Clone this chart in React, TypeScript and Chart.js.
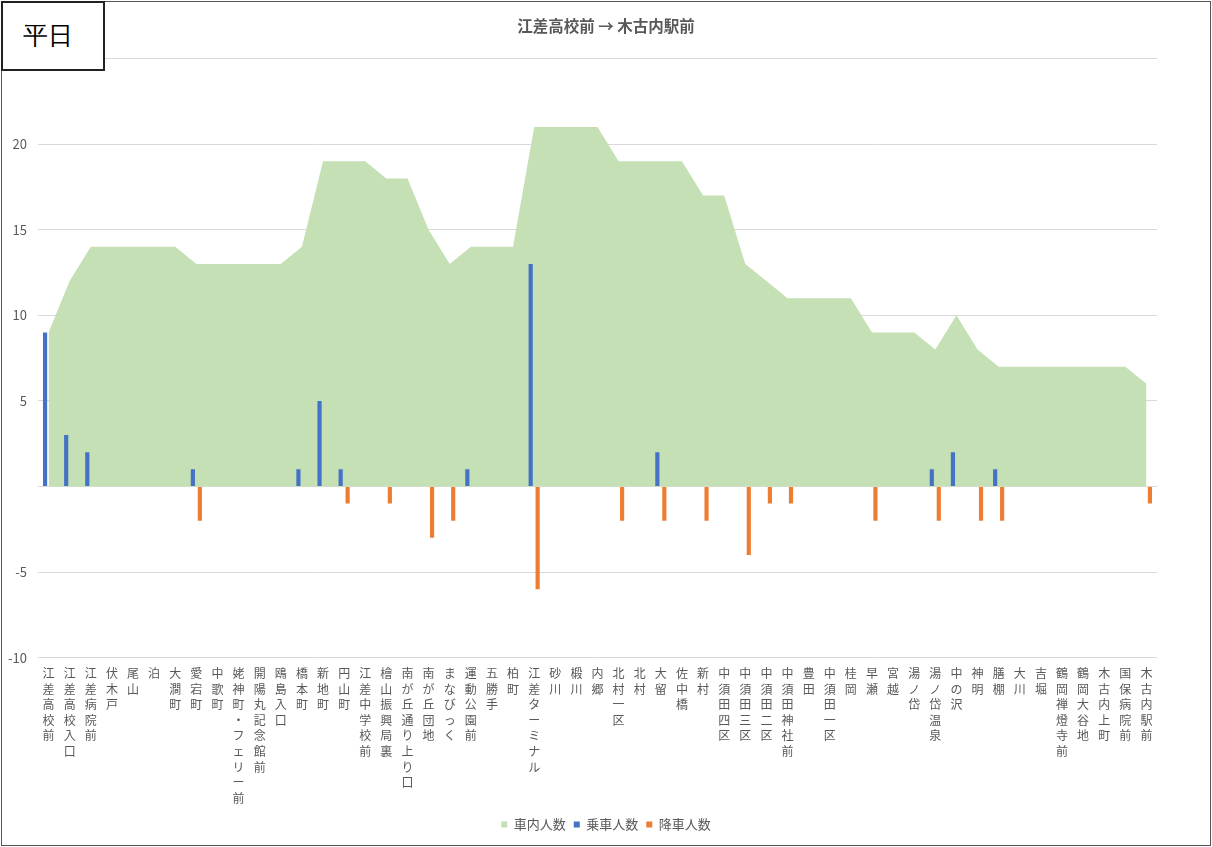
import React, { useEffect, useRef } from "react";
import { Chart, registerables } from "chart.js";

Chart.register(...registerables);

const stops: string[] = [
  "江差高校前", "江差高校入口", "江差病院前", "伏木戸", "尾山", "泊", "大澗町", "愛宕町", "中歌町",
  "姥神町・フェリー前", "開陽丸記念館前", "鴎島入口", "橋本町", "新地町", "円山町", "江差中学校前",
  "檜山振興局裏", "南が丘通り上り口", "南が丘団地", "まなびっく", "運動公園前", "五勝手", "柏町",
  "江差ターミナル", "砂川", "椴川", "内郷", "北村一区", "北村", "大留", "佐中橋", "新村",
  "中須田四区", "中須田三区", "中須田二区", "中須田神社前", "豊田", "中須田一区", "桂岡", "早瀬",
  "宮越", "湯ノ岱", "湯ノ岱温泉", "中の沢", "神明", "膳棚", "大川", "吉堀", "鶴岡禅燈寺前",
  "鶴岡大谷地", "木古内上町", "国保病院前", "木古内駅前",
];

const onBoard: number[] = [
  9, 12, 14, 14, 14, 14, 14, 13, 13, 13, 13, 13, 14, 19, 19, 19, 18, 18, 15, 13, 14, 14, 14,
  21, 21, 21, 21, 19, 19, 19, 19, 17, 17, 13, 12, 11, 11, 11, 11, 9, 9, 9, 8, 10, 8, 7, 7, 7, 7,
  7, 7, 7, 6,
];

const boarding: number[] = [
  9, 3, 2, 0, 0, 0, 0, 1, 0, 0, 0, 0, 1, 5, 1, 0, 0, 0, 0, 0, 1, 0, 0,
  13, 0, 0, 0, 0, 0, 2, 0, 0, 0, 0, 0, 0, 0, 0, 0, 0, 0, 0, 1, 2, 0, 1, 0, 0, 0,
  0, 0, 0, 0,
];

const alighting: number[] = [
  0, 0, 0, 0, 0, 0, 0, -2, 0, 0, 0, 0, 0, 0, -1, 0, -1, 0, -3, -2, 0, 0, 0,
  -6, 0, 0, 0, -2, 0, -2, 0, -2, 0, -4, -1, -1, 0, 0, 0, -2, 0, 0, -2, 0, -2, -2, 0, 0, 0,
  0, 0, 0, -1,
];

const seriesNames = ["車内人数", "乗車人数", "降車人数"];
const titleText = "江差高校前 → 木古内駅前";
const badgeText = "平日";

const FONT = "'Noto Sans CJK JP', 'Noto Sans', sans-serif";
const TEXT = "#595959";

export default function App() {
  const ref = useRef<HTMLCanvasElement | null>(null);

  useEffect(() => {
    document.body.style.margin = "0";
    if (!ref.current) return;
    const chart = new Chart(ref.current, {
      data: {
        labels: stops,
        datasets: [
          {
            type: "line",
            label: seriesNames[0],
            data: onBoard,
            yAxisID: "y",
            fill: "origin",
            backgroundColor: "rgb(197,224,180)",
            borderColor: "rgb(197,224,180)",
            borderWidth: 0,
            pointRadius: 0,
            tension: 0,
            order: 2,
          },
          {
            type: "bar",
            label: seriesNames[1],
            data: boarding,
            yAxisID: "y",
            backgroundColor: "#4472C4",
            categoryPercentage: 0.66,
            barPercentage: 0.6,
            order: 1,
          },
          {
            type: "bar",
            label: seriesNames[2],
            data: alighting,
            yAxisID: "y",
            backgroundColor: "#ED7D31",
            categoryPercentage: 0.66,
            barPercentage: 0.6,
            order: 1,
          },
        ],
      } as any,
      options: {
        animation: false,
        responsive: false,
        maintainAspectRatio: false,
        layout: { padding: { left: 8, right: 8, top: 0, bottom: 6 } },
        plugins: {
          title: {
            display: true,
            text: titleText,
            color: TEXT,
            font: { family: FONT, size: 15.5, weight: "bold" },
            padding: { top: 17, bottom: 23 },
          },
          legend: {
            position: "bottom",
            labels: {
              color: TEXT,
              font: { family: FONT, size: 13 },
              boxWidth: 6,
              boxHeight: 6,
              padding: 8,
              sort: (a: any, b: any) => a.datasetIndex - b.datasetIndex,
            },
          },
          tooltip: { enabled: false },
        },
        scales: {
          x: {
            offset: true,
            grid: { display: false, drawTicks: false },
            border: { display: false },
            afterFit: (s: any) => {
              s.height = s.height - 4;
            },
            ticks: {
              autoSkip: false,
              maxRotation: 0,
              minRotation: 0,
              padding: 8,
              color: TEXT,
              font: { family: FONT, size: 12, lineHeight: 1.3 },
              callback: (_v: any, i: number) => Array.from(stops[i]),
            },
          },
          y: {
            position: "left",
            min: -10,
            max: 25,
            grid: { color: "#D9D9D9", drawTicks: false, lineWidth: 1 },
            border: { display: false },
            afterFit: (s: any) => {
              s.width = 30;
            },
            ticks: {
              stepSize: 5,
              padding: 11,
              color: TEXT,
              font: { family: FONT, size: 13 },
              callback: (v: any) => (v === 0 || v === 25 ? "" : String(v)),
            },
          },
          y2: {
            position: "right",
            min: -10,
            max: 25,
            grid: { display: false, drawTicks: false },
            border: { display: false },
            ticks: { display: false },
            afterFit: (s: any) => {
              s.width = 47;
            },
          },
        },
      } as any,
    });
    return () => chart.destroy();
  }, []);

  return (
    <div style={{ position: "relative", width: 1212, height: 847, background: "#fff" }}>
      <canvas ref={ref} width={1212} height={847} style={{ position: "absolute", left: 0, top: 0 }} />
      <div
        style={{
          position: "absolute",
          left: 1,
          top: 1,
          width: 1208,
          height: 843,
          border: "1px solid #555",
          pointerEvents: "none",
        }}
      />
      <div
        style={{
          position: "absolute",
          left: 1,
          top: 1,
          width: 100,
          height: 66,
          border: "2px solid #222",
          background: "#fff",
          fontFamily: "'Liberation Serif', 'DejaVu Serif', serif",
          fontSize: 25,
          lineHeight: "66px",
          textAlign: "center",
          boxSizing: "content-box",
          color: "#000",
        }}
      >
        <span style={{ position: "relative", left: -5 }}>{badgeText}</span>
      </div>
    </div>
  );
}
